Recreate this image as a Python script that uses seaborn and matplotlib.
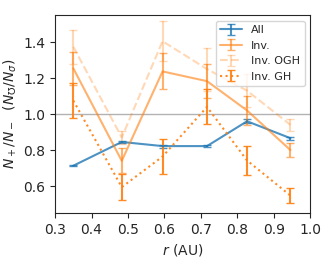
import matplotlib
matplotlib.use("Agg")
import matplotlib.pyplot as plt
import seaborn as sns
import numpy as np

# radial bins (AU)
r = [0.35, 0.483, 0.595, 0.717, 0.827, 0.946]

# ratio values and errors
all_val = [0.713, 0.845, 0.822, 0.822, 0.960, 0.866]
all_err = [0.004, 0.008, 0.008, 0.005, 0.010, 0.008]

inv_val = [1.254, 0.740, 1.237, 1.183, 1.020, 0.800]
inv_err = [0.090, 0.070, 0.100, 0.095, 0.080, 0.037]

ogh_val = [1.374, 0.870, 1.405, 1.250, 1.130, 0.940]
ogh_err = [0.095, 0.035, 0.110, 0.120, 0.090, 0.033]

gh_val = [1.075, 0.594, 0.764, 1.040, 0.742, 0.547]
gh_err = [0.095, 0.072, 0.097, 0.097, 0.080, 0.040]

sns.set_style("ticks")
pal = sns.color_palette("tab10")
blue, orange = pal[0], pal[1]

fig = plt.figure(figsize=(3.32, 2.70), dpi=100)
ax = fig.add_axes([0.166, 0.211, 0.768, 0.733])

ax.axhline(1.0, color="gray", alpha=0.6, lw=1)

ax.errorbar(r, all_val, yerr=all_err, color=blue, alpha=0.8, lw=1.5,
            capsize=3, label="All")
ax.errorbar(r, inv_val, yerr=inv_err, color=orange, alpha=0.6, lw=1.5,
            capsize=3, label="Inv.")
ax.errorbar(r, ogh_val, yerr=ogh_err, color=orange, alpha=0.3, lw=1.5,
            ls="--", capsize=3, label="Inv. OGH")
ax.errorbar(r, gh_val, yerr=gh_err, color=orange, alpha=0.9, lw=1.5,
            ls=":", capsize=3, label="Inv. GH")

ax.set_xlim(0.3, 1.0)
ax.set_ylim(0.45, 1.55)
ax.set_xticks(np.arange(0.3, 1.01, 0.1))
ax.set_yticks([0.6, 0.8, 1.0, 1.2, 1.4])
ax.set_xlabel(r"$r$ (AU)")
ax.set_ylabel(r"$N_+/N_-$  ($N_\mho/N_\sigma$)")
ax.legend(loc="upper right", fontsize=8)

fig.savefig("out.png", dpi=100)
